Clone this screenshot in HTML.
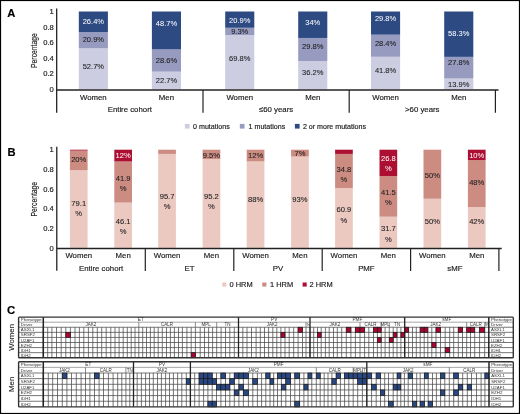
<!DOCTYPE html>
<html><head><meta charset="utf-8"><style>
html,body{margin:0;padding:0;background:#fff;}
body{width:520px;height:414px;overflow:hidden;}
svg{display:block;font-family:"Liberation Sans", sans-serif;will-change:transform;}
</style></head><body>
<svg width="520" height="414" viewBox="0 0 520 414">
<rect x="0" y="0" width="520" height="414" fill="#fff"/>
<text x="11.20" y="16.50" font-size="11.2" text-anchor="middle" fill="#000" stroke="#000" stroke-width="0.16" font-weight="bold">A</text>
<rect x="78.80" y="48.30" width="29.10" height="41.00" fill="#CDCDE2"/>
<rect x="78.80" y="32.04" width="29.10" height="16.26" fill="#989BC0"/>
<rect x="78.80" y="11.50" width="29.10" height="20.54" fill="#2D4A83"/>
<text x="93.35" y="68.50" font-size="7.5" text-anchor="middle" fill="#1e1e1e" stroke="#1e1e1e" stroke-width="0.08">52.7%</text>
<text x="93.35" y="42.10" font-size="7.5" text-anchor="middle" fill="#1e1e1e" stroke="#1e1e1e" stroke-width="0.08">20.9%</text>
<text x="93.35" y="23.90" font-size="7.5" text-anchor="middle" fill="#fff" stroke="#fff" stroke-width="0.03">26.4%</text>
<rect x="151.90" y="71.64" width="29.10" height="17.66" fill="#CDCDE2"/>
<rect x="151.90" y="49.39" width="29.10" height="22.25" fill="#989BC0"/>
<rect x="151.90" y="11.50" width="29.10" height="37.89" fill="#2D4A83"/>
<text x="166.45" y="83.10" font-size="7.5" text-anchor="middle" fill="#1e1e1e" stroke="#1e1e1e" stroke-width="0.08">22.7%</text>
<text x="166.45" y="63.00" font-size="7.5" text-anchor="middle" fill="#1e1e1e" stroke="#1e1e1e" stroke-width="0.08">28.6%</text>
<text x="166.45" y="26.30" font-size="7.5" text-anchor="middle" fill="#fff" stroke="#fff" stroke-width="0.03">48.7%</text>
<rect x="225.20" y="35.00" width="29.10" height="54.30" fill="#CDCDE2"/>
<rect x="225.20" y="27.76" width="29.10" height="7.24" fill="#989BC0"/>
<rect x="225.20" y="11.50" width="29.10" height="16.26" fill="#2D4A83"/>
<text x="239.75" y="61.00" font-size="7.5" text-anchor="middle" fill="#1e1e1e" stroke="#1e1e1e" stroke-width="0.08">69.8%</text>
<text x="239.75" y="34.00" font-size="7.5" text-anchor="middle" fill="#1e1e1e" stroke="#1e1e1e" stroke-width="0.08">9.3%</text>
<text x="239.75" y="22.50" font-size="7.5" text-anchor="middle" fill="#fff" stroke="#fff" stroke-width="0.03">20.9%</text>
<rect x="298.20" y="61.14" width="29.10" height="28.16" fill="#CDCDE2"/>
<rect x="298.20" y="37.95" width="29.10" height="23.18" fill="#989BC0"/>
<rect x="298.20" y="11.50" width="29.10" height="26.45" fill="#2D4A83"/>
<text x="312.75" y="75.20" font-size="7.5" text-anchor="middle" fill="#1e1e1e" stroke="#1e1e1e" stroke-width="0.08">36.2%</text>
<text x="312.75" y="49.20" font-size="7.5" text-anchor="middle" fill="#1e1e1e" stroke="#1e1e1e" stroke-width="0.08">29.8%</text>
<text x="312.75" y="25.30" font-size="7.5" text-anchor="middle" fill="#fff" stroke="#fff" stroke-width="0.03">34%</text>
<rect x="371.00" y="56.78" width="29.10" height="32.52" fill="#CDCDE2"/>
<rect x="371.00" y="34.68" width="29.10" height="22.10" fill="#989BC0"/>
<rect x="371.00" y="11.50" width="29.10" height="23.18" fill="#2D4A83"/>
<text x="385.55" y="73.20" font-size="7.5" text-anchor="middle" fill="#1e1e1e" stroke="#1e1e1e" stroke-width="0.08">41.8%</text>
<text x="385.55" y="45.60" font-size="7.5" text-anchor="middle" fill="#1e1e1e" stroke="#1e1e1e" stroke-width="0.08">28.4%</text>
<text x="385.55" y="21.20" font-size="7.5" text-anchor="middle" fill="#fff" stroke="#fff" stroke-width="0.03">29.8%</text>
<rect x="444.20" y="78.49" width="29.10" height="10.81" fill="#CDCDE2"/>
<rect x="444.20" y="56.86" width="29.10" height="21.63" fill="#989BC0"/>
<rect x="444.20" y="11.50" width="29.10" height="45.36" fill="#2D4A83"/>
<text x="458.75" y="87.20" font-size="7.5" text-anchor="middle" fill="#1e1e1e" stroke="#1e1e1e" stroke-width="0.08">13.9%</text>
<text x="458.75" y="65.10" font-size="7.5" text-anchor="middle" fill="#1e1e1e" stroke="#1e1e1e" stroke-width="0.08">27.8%</text>
<text x="458.75" y="35.70" font-size="7.5" text-anchor="middle" fill="#fff" stroke="#fff" stroke-width="0.03">58.3%</text>
<line x1="56.70" y1="8.50" x2="56.70" y2="112.70" stroke="#111" stroke-width="1.2"/>
<line x1="56.70" y1="89.90" x2="498.50" y2="89.90" stroke="#222" stroke-width="1.5"/>
<line x1="203.00" y1="89.90" x2="203.00" y2="112.70" stroke="#222" stroke-width="1.2"/>
<line x1="349.20" y1="89.90" x2="349.20" y2="112.70" stroke="#222" stroke-width="1.2"/>
<line x1="495.40" y1="89.90" x2="495.40" y2="112.70" stroke="#222" stroke-width="1.2"/>
<text x="53.80" y="14.20" font-size="7.6" text-anchor="end" fill="#1a1a1a" stroke="#1a1a1a" stroke-width="0.16">1</text>
<text x="53.80" y="29.76" font-size="7.6" text-anchor="end" fill="#1a1a1a" stroke="#1a1a1a" stroke-width="0.16">0.8</text>
<text x="53.80" y="45.32" font-size="7.6" text-anchor="end" fill="#1a1a1a" stroke="#1a1a1a" stroke-width="0.16">0.6</text>
<text x="53.80" y="60.88" font-size="7.6" text-anchor="end" fill="#1a1a1a" stroke="#1a1a1a" stroke-width="0.16">0.4</text>
<text x="53.80" y="76.44" font-size="7.6" text-anchor="end" fill="#1a1a1a" stroke="#1a1a1a" stroke-width="0.16">0.2</text>
<text x="53.80" y="92.00" font-size="7.6" text-anchor="end" fill="#1a1a1a" stroke="#1a1a1a" stroke-width="0.16">0</text>
<text x="0" y="0" font-size="9.4" text-anchor="middle" fill="#1a1a1a" stroke="#1a1a1a" stroke-width="0.15" transform="translate(36.70 50.60) rotate(-90) scale(0.72 1)">Percentage</text>
<text x="93.35" y="99.90" font-size="7.8" text-anchor="middle" fill="#1a1a1a" stroke="#1a1a1a" stroke-width="0.16">Women</text>
<text x="166.45" y="99.90" font-size="7.8" text-anchor="middle" fill="#1a1a1a" stroke="#1a1a1a" stroke-width="0.16">Men</text>
<text x="239.75" y="99.90" font-size="7.8" text-anchor="middle" fill="#1a1a1a" stroke="#1a1a1a" stroke-width="0.16">Women</text>
<text x="312.75" y="99.90" font-size="7.8" text-anchor="middle" fill="#1a1a1a" stroke="#1a1a1a" stroke-width="0.16">Men</text>
<text x="385.55" y="99.90" font-size="7.8" text-anchor="middle" fill="#1a1a1a" stroke="#1a1a1a" stroke-width="0.16">Women</text>
<text x="458.75" y="99.90" font-size="7.8" text-anchor="middle" fill="#1a1a1a" stroke="#1a1a1a" stroke-width="0.16">Men</text>
<text x="129.80" y="111.80" font-size="7.8" text-anchor="middle" fill="#1a1a1a" stroke="#1a1a1a" stroke-width="0.16">Entire cohort</text>
<text x="276.10" y="111.80" font-size="7.8" text-anchor="middle" fill="#1a1a1a" stroke="#1a1a1a" stroke-width="0.16">≤60 years</text>
<text x="422.30" y="111.80" font-size="7.8" text-anchor="middle" fill="#1a1a1a" stroke="#1a1a1a" stroke-width="0.16">&gt;60 years</text>
<rect x="184.90" y="123.90" width="4.70" height="4.70" fill="#CDCDE2"/>
<text x="193.10" y="128.70" font-size="7.1" text-anchor="start" fill="#1a1a1a" stroke="#1a1a1a" stroke-width="0.16">0 mutations</text>
<rect x="239.80" y="123.90" width="4.70" height="4.70" fill="#989BC0"/>
<text x="248.60" y="128.70" font-size="7.1" text-anchor="start" fill="#1a1a1a" stroke="#1a1a1a" stroke-width="0.16">1 mutations</text>
<rect x="294.90" y="123.90" width="4.70" height="4.70" fill="#2D4A83"/>
<text x="302.90" y="128.70" font-size="7.1" text-anchor="start" fill="#1a1a1a" stroke="#1a1a1a" stroke-width="0.16">2 or more mutations</text>
<text x="11.50" y="155.70" font-size="11.2" text-anchor="middle" fill="#000" stroke="#000" stroke-width="0.16" font-weight="bold">B</text>
<rect x="69.90" y="170.20" width="17.70" height="77.60" fill="#EBC8C0"/>
<rect x="69.90" y="150.58" width="17.70" height="19.62" fill="#CD8C82"/>
<rect x="69.90" y="149.70" width="17.70" height="0.88" fill="#AC0F32"/>
<text x="78.75" y="205.65" font-size="7.6" text-anchor="middle" fill="#222" stroke="#222" stroke-width="0.08">79.1</text>
<text x="78.75" y="215.75" font-size="7.6" text-anchor="middle" fill="#222" stroke="#222" stroke-width="0.08">%</text>
<text x="78.75" y="162.20" font-size="7.6" text-anchor="middle" fill="#222" stroke="#222" stroke-width="0.08">20%</text>
<rect x="114.30" y="202.58" width="17.70" height="45.22" fill="#EBC8C0"/>
<rect x="114.30" y="161.47" width="17.70" height="41.10" fill="#CD8C82"/>
<rect x="114.30" y="149.70" width="17.70" height="11.77" fill="#AC0F32"/>
<text x="123.15" y="224.15" font-size="7.6" text-anchor="middle" fill="#222" stroke="#222" stroke-width="0.08">46.1</text>
<text x="123.15" y="234.25" font-size="7.6" text-anchor="middle" fill="#222" stroke="#222" stroke-width="0.08">%</text>
<text x="123.15" y="180.65" font-size="7.6" text-anchor="middle" fill="#222" stroke="#222" stroke-width="0.08">41.9</text>
<text x="123.15" y="190.75" font-size="7.6" text-anchor="middle" fill="#222" stroke="#222" stroke-width="0.08">%</text>
<text x="123.15" y="157.90" font-size="7.6" text-anchor="middle" fill="#fff" stroke="#fff" stroke-width="0.03">12%</text>
<rect x="158.20" y="153.92" width="17.70" height="93.88" fill="#EBC8C0"/>
<rect x="158.20" y="149.70" width="17.70" height="4.22" fill="#CD8C82"/>
<text x="167.05" y="198.55" font-size="7.6" text-anchor="middle" fill="#222" stroke="#222" stroke-width="0.08">95.7</text>
<text x="167.05" y="208.65" font-size="7.6" text-anchor="middle" fill="#222" stroke="#222" stroke-width="0.08">%</text>
<rect x="202.60" y="159.02" width="17.70" height="88.78" fill="#EBC8C0"/>
<rect x="202.60" y="149.70" width="17.70" height="9.32" fill="#CD8C82"/>
<text x="211.45" y="199.15" font-size="7.6" text-anchor="middle" fill="#222" stroke="#222" stroke-width="0.08">95.2</text>
<text x="211.45" y="209.25" font-size="7.6" text-anchor="middle" fill="#222" stroke="#222" stroke-width="0.08">%</text>
<text x="211.45" y="157.90" font-size="7.6" text-anchor="middle" fill="#222" stroke="#222" stroke-width="0.08">9.5%</text>
<rect x="246.70" y="161.47" width="17.70" height="86.33" fill="#EBC8C0"/>
<rect x="246.70" y="149.70" width="17.70" height="11.77" fill="#CD8C82"/>
<text x="255.55" y="202.30" font-size="7.6" text-anchor="middle" fill="#222" stroke="#222" stroke-width="0.08">88%</text>
<text x="255.55" y="158.40" font-size="7.6" text-anchor="middle" fill="#222" stroke="#222" stroke-width="0.08">12%</text>
<rect x="291.10" y="156.57" width="17.70" height="91.23" fill="#EBC8C0"/>
<rect x="291.10" y="149.70" width="17.70" height="6.87" fill="#CD8C82"/>
<text x="299.95" y="202.30" font-size="7.6" text-anchor="middle" fill="#222" stroke="#222" stroke-width="0.08">93%</text>
<text x="299.95" y="156.10" font-size="7.6" text-anchor="middle" fill="#222" stroke="#222" stroke-width="0.08">7%</text>
<rect x="335.10" y="188.06" width="17.70" height="59.74" fill="#EBC8C0"/>
<rect x="335.10" y="153.92" width="17.70" height="34.14" fill="#CD8C82"/>
<rect x="335.10" y="149.70" width="17.70" height="4.22" fill="#AC0F32"/>
<text x="343.95" y="212.45" font-size="7.6" text-anchor="middle" fill="#222" stroke="#222" stroke-width="0.08">60.9</text>
<text x="343.95" y="222.55" font-size="7.6" text-anchor="middle" fill="#222" stroke="#222" stroke-width="0.08">%</text>
<text x="343.95" y="171.65" font-size="7.6" text-anchor="middle" fill="#222" stroke="#222" stroke-width="0.08">34.8</text>
<text x="343.95" y="181.75" font-size="7.6" text-anchor="middle" fill="#222" stroke="#222" stroke-width="0.08">%</text>
<rect x="379.50" y="216.70" width="17.70" height="31.10" fill="#EBC8C0"/>
<rect x="379.50" y="175.99" width="17.70" height="40.71" fill="#CD8C82"/>
<rect x="379.50" y="149.70" width="17.70" height="26.29" fill="#AC0F32"/>
<text x="388.35" y="231.45" font-size="7.6" text-anchor="middle" fill="#222" stroke="#222" stroke-width="0.08">31.7</text>
<text x="388.35" y="241.55" font-size="7.6" text-anchor="middle" fill="#222" stroke="#222" stroke-width="0.08">%</text>
<text x="388.35" y="194.65" font-size="7.6" text-anchor="middle" fill="#222" stroke="#222" stroke-width="0.08">41.5</text>
<text x="388.35" y="204.75" font-size="7.6" text-anchor="middle" fill="#222" stroke="#222" stroke-width="0.08">%</text>
<text x="388.35" y="160.95" font-size="7.6" text-anchor="middle" fill="#fff" stroke="#fff" stroke-width="0.03">26.8</text>
<text x="388.35" y="171.05" font-size="7.6" text-anchor="middle" fill="#fff" stroke="#fff" stroke-width="0.03">%</text>
<rect x="423.50" y="198.75" width="17.70" height="49.05" fill="#EBC8C0"/>
<rect x="423.50" y="149.70" width="17.70" height="49.05" fill="#CD8C82"/>
<text x="432.35" y="224.30" font-size="7.6" text-anchor="middle" fill="#222" stroke="#222" stroke-width="0.08">50%</text>
<text x="432.35" y="177.70" font-size="7.6" text-anchor="middle" fill="#222" stroke="#222" stroke-width="0.08">50%</text>
<rect x="467.90" y="206.99" width="17.70" height="40.81" fill="#EBC8C0"/>
<rect x="467.90" y="160.10" width="17.70" height="46.89" fill="#CD8C82"/>
<rect x="467.90" y="149.70" width="17.70" height="10.40" fill="#AC0F32"/>
<text x="476.75" y="224.30" font-size="7.6" text-anchor="middle" fill="#222" stroke="#222" stroke-width="0.08">42%</text>
<text x="476.75" y="184.50" font-size="7.6" text-anchor="middle" fill="#222" stroke="#222" stroke-width="0.08">48%</text>
<text x="476.75" y="157.90" font-size="7.6" text-anchor="middle" fill="#fff" stroke="#fff" stroke-width="0.03">10%</text>
<line x1="56.80" y1="146.80" x2="56.80" y2="270.80" stroke="#111" stroke-width="1.2"/>
<line x1="56.80" y1="248.60" x2="501.70" y2="248.60" stroke="#222" stroke-width="1.5"/>
<line x1="145.30" y1="248.60" x2="145.30" y2="270.90" stroke="#222" stroke-width="1.2"/>
<line x1="233.80" y1="248.60" x2="233.80" y2="270.90" stroke="#222" stroke-width="1.2"/>
<line x1="322.20" y1="248.60" x2="322.20" y2="270.90" stroke="#222" stroke-width="1.2"/>
<line x1="410.60" y1="248.60" x2="410.60" y2="270.90" stroke="#222" stroke-width="1.2"/>
<line x1="498.90" y1="248.60" x2="498.90" y2="270.90" stroke="#222" stroke-width="1.2"/>
<text x="53.80" y="152.40" font-size="7.6" text-anchor="end" fill="#1a1a1a" stroke="#1a1a1a" stroke-width="0.16">1</text>
<text x="53.80" y="172.02" font-size="7.6" text-anchor="end" fill="#1a1a1a" stroke="#1a1a1a" stroke-width="0.16">0.8</text>
<text x="53.80" y="191.64" font-size="7.6" text-anchor="end" fill="#1a1a1a" stroke="#1a1a1a" stroke-width="0.16">0.6</text>
<text x="53.80" y="211.26" font-size="7.6" text-anchor="end" fill="#1a1a1a" stroke="#1a1a1a" stroke-width="0.16">0.4</text>
<text x="53.80" y="230.88" font-size="7.6" text-anchor="end" fill="#1a1a1a" stroke="#1a1a1a" stroke-width="0.16">0.2</text>
<text x="53.80" y="250.50" font-size="7.6" text-anchor="end" fill="#1a1a1a" stroke="#1a1a1a" stroke-width="0.16">0</text>
<text x="0" y="0" font-size="9.4" text-anchor="middle" fill="#1a1a1a" stroke="#1a1a1a" stroke-width="0.15" transform="translate(36.90 199.20) rotate(-90) scale(0.72 1)">Percentage</text>
<text x="78.75" y="258.20" font-size="7.8" text-anchor="middle" fill="#1a1a1a" stroke="#1a1a1a" stroke-width="0.16">Women</text>
<text x="123.15" y="258.20" font-size="7.8" text-anchor="middle" fill="#1a1a1a" stroke="#1a1a1a" stroke-width="0.16">Men</text>
<text x="167.05" y="258.20" font-size="7.8" text-anchor="middle" fill="#1a1a1a" stroke="#1a1a1a" stroke-width="0.16">Women</text>
<text x="211.45" y="258.20" font-size="7.8" text-anchor="middle" fill="#1a1a1a" stroke="#1a1a1a" stroke-width="0.16">Men</text>
<text x="255.55" y="258.20" font-size="7.8" text-anchor="middle" fill="#1a1a1a" stroke="#1a1a1a" stroke-width="0.16">Women</text>
<text x="299.95" y="258.20" font-size="7.8" text-anchor="middle" fill="#1a1a1a" stroke="#1a1a1a" stroke-width="0.16">Men</text>
<text x="343.95" y="258.20" font-size="7.8" text-anchor="middle" fill="#1a1a1a" stroke="#1a1a1a" stroke-width="0.16">Women</text>
<text x="388.35" y="258.20" font-size="7.8" text-anchor="middle" fill="#1a1a1a" stroke="#1a1a1a" stroke-width="0.16">Men</text>
<text x="432.35" y="258.20" font-size="7.8" text-anchor="middle" fill="#1a1a1a" stroke="#1a1a1a" stroke-width="0.16">Women</text>
<text x="476.75" y="258.20" font-size="7.8" text-anchor="middle" fill="#1a1a1a" stroke="#1a1a1a" stroke-width="0.16">Men</text>
<text x="101.15" y="270.70" font-size="7.8" text-anchor="middle" fill="#1a1a1a" stroke="#1a1a1a" stroke-width="0.16">Entire cohort</text>
<text x="189.55" y="270.70" font-size="7.8" text-anchor="middle" fill="#1a1a1a" stroke="#1a1a1a" stroke-width="0.16">ET</text>
<text x="278.00" y="270.70" font-size="7.8" text-anchor="middle" fill="#1a1a1a" stroke="#1a1a1a" stroke-width="0.16">PV</text>
<text x="366.40" y="270.70" font-size="7.8" text-anchor="middle" fill="#1a1a1a" stroke="#1a1a1a" stroke-width="0.16">PMF</text>
<text x="454.90" y="270.70" font-size="7.8" text-anchor="middle" fill="#1a1a1a" stroke="#1a1a1a" stroke-width="0.16">sMF</text>
<rect x="222.30" y="282.50" width="4.10" height="4.10" fill="#EBC8C0"/>
<text x="229.50" y="286.80" font-size="7.45" text-anchor="start" fill="#1a1a1a" stroke="#1a1a1a" stroke-width="0.16">0 HRM</text>
<rect x="262.30" y="282.50" width="4.10" height="4.10" fill="#CD8C82"/>
<text x="270.00" y="286.80" font-size="7.45" text-anchor="start" fill="#1a1a1a" stroke="#1a1a1a" stroke-width="0.16">1 HRM</text>
<rect x="302.60" y="282.50" width="4.10" height="4.10" fill="#AC0F32"/>
<text x="309.50" y="286.80" font-size="7.45" text-anchor="start" fill="#1a1a1a" stroke="#1a1a1a" stroke-width="0.16">2 HRM</text>
<text x="11.10" y="314.10" font-size="11.4" text-anchor="middle" fill="#000" stroke="#000" stroke-width="0.16" font-weight="bold">C</text>
<text x="0" y="0" font-size="7.8" text-anchor="middle" fill="#1a1a1a" stroke="#1a1a1a" stroke-width="0.1" transform="translate(13.60 337.40) rotate(-90)">Women</text>
<text x="0" y="0" font-size="7.8" text-anchor="middle" fill="#1a1a1a" stroke="#1a1a1a" stroke-width="0.1" transform="translate(13.60 384.30) rotate(-90)">Men</text>
<line x1="43.20" y1="327.26" x2="43.20" y2="357.74" stroke="#484848" stroke-width="0.75"/>
<line x1="47.70" y1="327.26" x2="47.70" y2="357.74" stroke="#484848" stroke-width="0.75"/>
<line x1="51.90" y1="327.26" x2="51.90" y2="357.74" stroke="#484848" stroke-width="0.75"/>
<line x1="56.50" y1="327.26" x2="56.50" y2="357.74" stroke="#484848" stroke-width="0.75"/>
<line x1="61.20" y1="327.26" x2="61.20" y2="357.74" stroke="#484848" stroke-width="0.75"/>
<line x1="65.80" y1="327.26" x2="65.80" y2="357.74" stroke="#484848" stroke-width="0.75"/>
<line x1="70.40" y1="327.26" x2="70.40" y2="357.74" stroke="#484848" stroke-width="0.75"/>
<line x1="75.00" y1="327.26" x2="75.00" y2="357.74" stroke="#484848" stroke-width="0.75"/>
<line x1="79.40" y1="327.26" x2="79.40" y2="357.74" stroke="#484848" stroke-width="0.75"/>
<line x1="83.80" y1="327.26" x2="83.80" y2="357.74" stroke="#484848" stroke-width="0.75"/>
<line x1="88.40" y1="327.26" x2="88.40" y2="357.74" stroke="#484848" stroke-width="0.75"/>
<line x1="92.80" y1="327.26" x2="92.80" y2="357.74" stroke="#484848" stroke-width="0.75"/>
<line x1="97.30" y1="327.26" x2="97.30" y2="357.74" stroke="#484848" stroke-width="0.75"/>
<line x1="101.70" y1="327.26" x2="101.70" y2="357.74" stroke="#484848" stroke-width="0.75"/>
<line x1="106.20" y1="327.26" x2="106.20" y2="357.74" stroke="#484848" stroke-width="0.75"/>
<line x1="110.80" y1="327.26" x2="110.80" y2="357.74" stroke="#484848" stroke-width="0.75"/>
<line x1="115.00" y1="327.26" x2="115.00" y2="357.74" stroke="#484848" stroke-width="0.75"/>
<line x1="119.10" y1="327.26" x2="119.10" y2="357.74" stroke="#484848" stroke-width="0.75"/>
<line x1="123.20" y1="327.26" x2="123.20" y2="357.74" stroke="#484848" stroke-width="0.75"/>
<line x1="127.30" y1="327.26" x2="127.30" y2="357.74" stroke="#484848" stroke-width="0.75"/>
<line x1="131.20" y1="327.26" x2="131.20" y2="357.74" stroke="#484848" stroke-width="0.75"/>
<line x1="135.00" y1="327.26" x2="135.00" y2="357.74" stroke="#484848" stroke-width="0.75"/>
<line x1="138.80" y1="327.26" x2="138.80" y2="357.74" stroke="#484848" stroke-width="0.75"/>
<line x1="142.70" y1="327.26" x2="142.70" y2="357.74" stroke="#484848" stroke-width="0.75"/>
<line x1="146.50" y1="327.26" x2="146.50" y2="357.74" stroke="#484848" stroke-width="0.75"/>
<line x1="150.40" y1="327.26" x2="150.40" y2="357.74" stroke="#484848" stroke-width="0.75"/>
<line x1="154.20" y1="327.26" x2="154.20" y2="357.74" stroke="#484848" stroke-width="0.75"/>
<line x1="158.20" y1="327.26" x2="158.20" y2="357.74" stroke="#484848" stroke-width="0.75"/>
<line x1="162.30" y1="327.26" x2="162.30" y2="357.74" stroke="#484848" stroke-width="0.75"/>
<line x1="166.50" y1="327.26" x2="166.50" y2="357.74" stroke="#484848" stroke-width="0.75"/>
<line x1="170.40" y1="327.26" x2="170.40" y2="357.74" stroke="#484848" stroke-width="0.75"/>
<line x1="174.40" y1="327.26" x2="174.40" y2="357.74" stroke="#484848" stroke-width="0.75"/>
<line x1="178.50" y1="327.26" x2="178.50" y2="357.74" stroke="#484848" stroke-width="0.75"/>
<line x1="182.40" y1="327.26" x2="182.40" y2="357.74" stroke="#484848" stroke-width="0.75"/>
<line x1="186.90" y1="327.26" x2="186.90" y2="357.74" stroke="#484848" stroke-width="0.75"/>
<line x1="191.20" y1="327.26" x2="191.20" y2="357.74" stroke="#484848" stroke-width="0.75"/>
<line x1="195.40" y1="327.26" x2="195.40" y2="357.74" stroke="#484848" stroke-width="0.75"/>
<line x1="200.20" y1="327.26" x2="200.20" y2="357.74" stroke="#484848" stroke-width="0.75"/>
<line x1="204.50" y1="327.26" x2="204.50" y2="357.74" stroke="#484848" stroke-width="0.75"/>
<line x1="208.60" y1="327.26" x2="208.60" y2="357.74" stroke="#484848" stroke-width="0.75"/>
<line x1="212.60" y1="327.26" x2="212.60" y2="357.74" stroke="#484848" stroke-width="0.75"/>
<line x1="216.70" y1="327.26" x2="216.70" y2="357.74" stroke="#484848" stroke-width="0.75"/>
<line x1="221.10" y1="327.26" x2="221.10" y2="357.74" stroke="#484848" stroke-width="0.75"/>
<line x1="225.50" y1="327.26" x2="225.50" y2="357.74" stroke="#484848" stroke-width="0.75"/>
<line x1="229.80" y1="327.26" x2="229.80" y2="357.74" stroke="#484848" stroke-width="0.75"/>
<line x1="234.30" y1="327.26" x2="234.30" y2="357.74" stroke="#484848" stroke-width="0.75"/>
<line x1="238.50" y1="327.26" x2="238.50" y2="357.74" stroke="#484848" stroke-width="0.75"/>
<line x1="242.80" y1="327.26" x2="242.80" y2="357.74" stroke="#484848" stroke-width="0.75"/>
<line x1="247.00" y1="327.26" x2="247.00" y2="357.74" stroke="#484848" stroke-width="0.75"/>
<line x1="251.50" y1="327.26" x2="251.50" y2="357.74" stroke="#484848" stroke-width="0.75"/>
<line x1="256.10" y1="327.26" x2="256.10" y2="357.74" stroke="#484848" stroke-width="0.75"/>
<line x1="260.30" y1="327.26" x2="260.30" y2="357.74" stroke="#484848" stroke-width="0.75"/>
<line x1="264.50" y1="327.26" x2="264.50" y2="357.74" stroke="#484848" stroke-width="0.75"/>
<line x1="268.60" y1="327.26" x2="268.60" y2="357.74" stroke="#484848" stroke-width="0.75"/>
<line x1="272.80" y1="327.26" x2="272.80" y2="357.74" stroke="#484848" stroke-width="0.75"/>
<line x1="276.80" y1="327.26" x2="276.80" y2="357.74" stroke="#484848" stroke-width="0.75"/>
<line x1="280.90" y1="327.26" x2="280.90" y2="357.74" stroke="#484848" stroke-width="0.75"/>
<line x1="285.00" y1="327.26" x2="285.00" y2="357.74" stroke="#484848" stroke-width="0.75"/>
<line x1="289.20" y1="327.26" x2="289.20" y2="357.74" stroke="#484848" stroke-width="0.75"/>
<line x1="293.70" y1="327.26" x2="293.70" y2="357.74" stroke="#484848" stroke-width="0.75"/>
<line x1="298.10" y1="327.26" x2="298.10" y2="357.74" stroke="#484848" stroke-width="0.75"/>
<line x1="302.50" y1="327.26" x2="302.50" y2="357.74" stroke="#484848" stroke-width="0.75"/>
<line x1="306.00" y1="327.26" x2="306.00" y2="357.74" stroke="#484848" stroke-width="0.75"/>
<line x1="310.00" y1="327.26" x2="310.00" y2="357.74" stroke="#484848" stroke-width="0.75"/>
<line x1="313.70" y1="327.26" x2="313.70" y2="357.74" stroke="#484848" stroke-width="0.75"/>
<line x1="317.50" y1="327.26" x2="317.50" y2="357.74" stroke="#484848" stroke-width="0.75"/>
<line x1="321.20" y1="327.26" x2="321.20" y2="357.74" stroke="#484848" stroke-width="0.75"/>
<line x1="325.40" y1="327.26" x2="325.40" y2="357.74" stroke="#484848" stroke-width="0.75"/>
<line x1="329.20" y1="327.26" x2="329.20" y2="357.74" stroke="#484848" stroke-width="0.75"/>
<line x1="333.50" y1="327.26" x2="333.50" y2="357.74" stroke="#484848" stroke-width="0.75"/>
<line x1="337.30" y1="327.26" x2="337.30" y2="357.74" stroke="#484848" stroke-width="0.75"/>
<line x1="341.70" y1="327.26" x2="341.70" y2="357.74" stroke="#484848" stroke-width="0.75"/>
<line x1="346.30" y1="327.26" x2="346.30" y2="357.74" stroke="#484848" stroke-width="0.75"/>
<line x1="350.90" y1="327.26" x2="350.90" y2="357.74" stroke="#484848" stroke-width="0.75"/>
<line x1="355.40" y1="327.26" x2="355.40" y2="357.74" stroke="#484848" stroke-width="0.75"/>
<line x1="360.00" y1="327.26" x2="360.00" y2="357.74" stroke="#484848" stroke-width="0.75"/>
<line x1="364.60" y1="327.26" x2="364.60" y2="357.74" stroke="#484848" stroke-width="0.75"/>
<line x1="368.80" y1="327.26" x2="368.80" y2="357.74" stroke="#484848" stroke-width="0.75"/>
<line x1="373.50" y1="327.26" x2="373.50" y2="357.74" stroke="#484848" stroke-width="0.75"/>
<line x1="377.40" y1="327.26" x2="377.40" y2="357.74" stroke="#484848" stroke-width="0.75"/>
<line x1="381.20" y1="327.26" x2="381.20" y2="357.74" stroke="#484848" stroke-width="0.75"/>
<line x1="385.10" y1="327.26" x2="385.10" y2="357.74" stroke="#484848" stroke-width="0.75"/>
<line x1="389.30" y1="327.26" x2="389.30" y2="357.74" stroke="#484848" stroke-width="0.75"/>
<line x1="393.20" y1="327.26" x2="393.20" y2="357.74" stroke="#484848" stroke-width="0.75"/>
<line x1="397.00" y1="327.26" x2="397.00" y2="357.74" stroke="#484848" stroke-width="0.75"/>
<line x1="400.90" y1="327.26" x2="400.90" y2="357.74" stroke="#484848" stroke-width="0.75"/>
<line x1="404.70" y1="327.26" x2="404.70" y2="357.74" stroke="#484848" stroke-width="0.75"/>
<line x1="408.60" y1="327.26" x2="408.60" y2="357.74" stroke="#484848" stroke-width="0.75"/>
<line x1="412.50" y1="327.26" x2="412.50" y2="357.74" stroke="#484848" stroke-width="0.75"/>
<line x1="416.30" y1="327.26" x2="416.30" y2="357.74" stroke="#484848" stroke-width="0.75"/>
<line x1="420.20" y1="327.26" x2="420.20" y2="357.74" stroke="#484848" stroke-width="0.75"/>
<line x1="424.20" y1="327.26" x2="424.20" y2="357.74" stroke="#484848" stroke-width="0.75"/>
<line x1="427.80" y1="327.26" x2="427.80" y2="357.74" stroke="#484848" stroke-width="0.75"/>
<line x1="431.80" y1="327.26" x2="431.80" y2="357.74" stroke="#484848" stroke-width="0.75"/>
<line x1="436.00" y1="327.26" x2="436.00" y2="357.74" stroke="#484848" stroke-width="0.75"/>
<line x1="440.50" y1="327.26" x2="440.50" y2="357.74" stroke="#484848" stroke-width="0.75"/>
<line x1="445.20" y1="327.26" x2="445.20" y2="357.74" stroke="#484848" stroke-width="0.75"/>
<line x1="449.70" y1="327.26" x2="449.70" y2="357.74" stroke="#484848" stroke-width="0.75"/>
<line x1="453.70" y1="327.26" x2="453.70" y2="357.74" stroke="#484848" stroke-width="0.75"/>
<line x1="458.30" y1="327.26" x2="458.30" y2="357.74" stroke="#484848" stroke-width="0.75"/>
<line x1="462.50" y1="327.26" x2="462.50" y2="357.74" stroke="#484848" stroke-width="0.75"/>
<line x1="466.70" y1="327.26" x2="466.70" y2="357.74" stroke="#484848" stroke-width="0.75"/>
<line x1="470.50" y1="327.26" x2="470.50" y2="357.74" stroke="#484848" stroke-width="0.75"/>
<line x1="474.70" y1="327.26" x2="474.70" y2="357.74" stroke="#484848" stroke-width="0.75"/>
<line x1="479.60" y1="327.26" x2="479.60" y2="357.74" stroke="#484848" stroke-width="0.75"/>
<line x1="484.70" y1="327.26" x2="484.70" y2="357.74" stroke="#484848" stroke-width="0.75"/>
<line x1="18.60" y1="322.18" x2="513.30" y2="322.18" stroke="#888" stroke-width="0.75"/>
<line x1="18.60" y1="327.26" x2="513.30" y2="327.26" stroke="#484848" stroke-width="0.75"/>
<line x1="18.60" y1="332.34" x2="513.30" y2="332.34" stroke="#484848" stroke-width="0.75"/>
<line x1="18.60" y1="337.42" x2="513.30" y2="337.42" stroke="#484848" stroke-width="0.75"/>
<line x1="18.60" y1="342.50" x2="513.30" y2="342.50" stroke="#484848" stroke-width="0.75"/>
<line x1="18.60" y1="347.58" x2="513.30" y2="347.58" stroke="#484848" stroke-width="0.75"/>
<line x1="18.60" y1="352.66" x2="513.30" y2="352.66" stroke="#484848" stroke-width="0.75"/>
<rect x="298.10" y="327.26" width="4.40" height="5.08" fill="#AA0530" stroke="#1a1a1a" stroke-width="0.7"/>
<rect x="346.30" y="327.26" width="4.60" height="5.08" fill="#AA0530" stroke="#1a1a1a" stroke-width="0.7"/>
<rect x="355.40" y="327.26" width="4.60" height="5.08" fill="#AA0530" stroke="#1a1a1a" stroke-width="0.7"/>
<rect x="360.00" y="327.26" width="4.60" height="5.08" fill="#AA0530" stroke="#1a1a1a" stroke-width="0.7"/>
<rect x="373.50" y="327.26" width="3.90" height="5.08" fill="#AA0530" stroke="#1a1a1a" stroke-width="0.7"/>
<rect x="377.40" y="327.26" width="3.80" height="5.08" fill="#AA0530" stroke="#1a1a1a" stroke-width="0.7"/>
<rect x="404.70" y="327.26" width="3.90" height="5.08" fill="#AA0530" stroke="#1a1a1a" stroke-width="0.7"/>
<rect x="420.20" y="327.26" width="4.00" height="5.08" fill="#AA0530" stroke="#1a1a1a" stroke-width="0.7"/>
<rect x="424.20" y="327.26" width="3.60" height="5.08" fill="#AA0530" stroke="#1a1a1a" stroke-width="0.7"/>
<rect x="436.00" y="327.26" width="4.50" height="5.08" fill="#AA0530" stroke="#1a1a1a" stroke-width="0.7"/>
<rect x="458.30" y="327.26" width="4.20" height="5.08" fill="#AA0530" stroke="#1a1a1a" stroke-width="0.7"/>
<rect x="466.70" y="327.26" width="3.80" height="5.08" fill="#AA0530" stroke="#1a1a1a" stroke-width="0.7"/>
<rect x="470.50" y="327.26" width="4.20" height="5.08" fill="#AA0530" stroke="#1a1a1a" stroke-width="0.7"/>
<rect x="479.60" y="327.26" width="5.10" height="5.08" fill="#AA0530" stroke="#1a1a1a" stroke-width="0.7"/>
<rect x="65.80" y="332.34" width="4.60" height="5.08" fill="#AA0530" stroke="#1a1a1a" stroke-width="0.7"/>
<rect x="280.90" y="332.34" width="4.10" height="5.08" fill="#AA0530" stroke="#1a1a1a" stroke-width="0.7"/>
<rect x="317.50" y="332.34" width="3.70" height="5.08" fill="#AA0530" stroke="#1a1a1a" stroke-width="0.7"/>
<rect x="393.20" y="332.34" width="3.80" height="5.08" fill="#AA0530" stroke="#1a1a1a" stroke-width="0.7"/>
<rect x="400.90" y="332.34" width="3.80" height="5.08" fill="#AA0530" stroke="#1a1a1a" stroke-width="0.7"/>
<rect x="377.40" y="337.42" width="3.80" height="5.08" fill="#AA0530" stroke="#1a1a1a" stroke-width="0.7"/>
<rect x="389.30" y="337.42" width="3.90" height="5.08" fill="#AA0530" stroke="#1a1a1a" stroke-width="0.7"/>
<rect x="431.80" y="342.50" width="4.20" height="5.08" fill="#AA0530" stroke="#1a1a1a" stroke-width="0.7"/>
<rect x="445.20" y="347.58" width="4.50" height="5.08" fill="#AA0530" stroke="#1a1a1a" stroke-width="0.7"/>
<rect x="191.20" y="352.66" width="4.20" height="5.08" fill="#AA0530" stroke="#1a1a1a" stroke-width="0.7"/>
<text x="91.00" y="326.34" font-size="4.5" text-anchor="middle" fill="#333">JAK2</text>
<line x1="138.80" y1="322.18" x2="138.80" y2="327.26" stroke="#666" stroke-width="0.75"/>
<text x="167.10" y="326.34" font-size="4.5" text-anchor="middle" fill="#333">CALR</text>
<line x1="195.40" y1="322.18" x2="195.40" y2="327.26" stroke="#666" stroke-width="0.75"/>
<text x="206.05" y="326.34" font-size="4.5" text-anchor="middle" fill="#333">MPL</text>
<line x1="216.70" y1="322.18" x2="216.70" y2="327.26" stroke="#666" stroke-width="0.75"/>
<text x="227.60" y="326.34" font-size="4.5" text-anchor="middle" fill="#333">TN</text>
<text x="140.85" y="321.29" font-size="4.7" text-anchor="middle" fill="#333">ET</text>
<text x="272.25" y="326.34" font-size="4.5" text-anchor="middle" fill="#333">JAK2</text>
<line x1="306.00" y1="322.18" x2="306.00" y2="327.26" stroke="#666" stroke-width="0.75"/>
<text x="308.00" y="325.87" font-size="3.2" text-anchor="middle" fill="#333">Tn</text>
<text x="274.25" y="321.29" font-size="4.7" text-anchor="middle" fill="#333">PV</text>
<text x="335.00" y="326.34" font-size="4.5" text-anchor="middle" fill="#333">JAK2</text>
<line x1="360.00" y1="322.18" x2="360.00" y2="327.26" stroke="#666" stroke-width="0.75"/>
<text x="370.60" y="326.34" font-size="4.5" text-anchor="middle" fill="#333">CALR</text>
<line x1="381.20" y1="322.18" x2="381.20" y2="327.26" stroke="#666" stroke-width="0.75"/>
<text x="385.25" y="326.34" font-size="4.5" text-anchor="middle" fill="#333">MPL</text>
<line x1="389.30" y1="322.18" x2="389.30" y2="327.26" stroke="#666" stroke-width="0.75"/>
<text x="397.00" y="326.34" font-size="4.5" text-anchor="middle" fill="#333">TN</text>
<text x="357.35" y="321.29" font-size="4.7" text-anchor="middle" fill="#333">PMF</text>
<text x="435.70" y="326.34" font-size="4.5" text-anchor="middle" fill="#333">JAK2</text>
<line x1="466.70" y1="322.18" x2="466.70" y2="327.26" stroke="#666" stroke-width="0.75"/>
<text x="475.70" y="326.34" font-size="4.5" text-anchor="middle" fill="#333">CALR</text>
<line x1="484.70" y1="322.18" x2="484.70" y2="327.26" stroke="#666" stroke-width="0.75"/>
<text x="486.75" y="326.34" font-size="4.5" text-anchor="middle" fill="#333">M</text>
<text x="446.75" y="321.29" font-size="4.7" text-anchor="middle" fill="#333">sMF</text>
<line x1="238.50" y1="317.10" x2="238.50" y2="357.74" stroke="#222" stroke-width="1.3"/>
<line x1="310.00" y1="317.10" x2="310.00" y2="357.74" stroke="#222" stroke-width="1.3"/>
<line x1="404.70" y1="317.10" x2="404.70" y2="357.74" stroke="#222" stroke-width="1.3"/>
<line x1="43.30" y1="317.10" x2="43.30" y2="357.74" stroke="#222" stroke-width="1.5"/>
<line x1="488.80" y1="317.10" x2="488.80" y2="357.74" stroke="#222" stroke-width="1.5"/>
<rect x="18.60" y="317.10" width="494.70" height="40.64" fill="none" stroke="#333" stroke-width="1.4" rx="0.8"/>
<text x="20.80" y="321.24" font-size="4.4" text-anchor="start" fill="#333">Phenotype</text>
<text x="491.00" y="321.24" font-size="4.4" text-anchor="start" fill="#333">Phenotype</text>
<text x="20.80" y="326.32" font-size="4.4" text-anchor="start" fill="#333">Driver</text>
<text x="491.00" y="326.32" font-size="4.4" text-anchor="start" fill="#333">Driver</text>
<text x="20.80" y="331.40" font-size="4.4" text-anchor="start" fill="#333">ASXL1</text>
<text x="491.00" y="331.40" font-size="4.4" text-anchor="start" fill="#333">ASXL1</text>
<text x="20.80" y="336.48" font-size="4.4" text-anchor="start" fill="#333">SRSF2</text>
<text x="491.00" y="336.48" font-size="4.4" text-anchor="start" fill="#333">SRSF2</text>
<text x="20.80" y="341.56" font-size="4.4" text-anchor="start" fill="#333">U2AF1</text>
<text x="491.00" y="341.56" font-size="4.4" text-anchor="start" fill="#333">U2AF1</text>
<text x="20.80" y="346.64" font-size="4.4" text-anchor="start" fill="#333">EZH2</text>
<text x="491.00" y="346.64" font-size="4.4" text-anchor="start" fill="#333">EZH2</text>
<text x="20.80" y="351.72" font-size="4.4" text-anchor="start" fill="#333">IDH1</text>
<text x="491.00" y="351.72" font-size="4.4" text-anchor="start" fill="#333">IDH1</text>
<text x="20.80" y="356.80" font-size="4.4" text-anchor="start" fill="#333">IDH2</text>
<text x="491.00" y="356.80" font-size="4.4" text-anchor="start" fill="#333">IDH2</text>
<line x1="43.20" y1="373.00" x2="43.20" y2="406.90" stroke="#484848" stroke-width="0.75"/>
<line x1="48.30" y1="373.00" x2="48.30" y2="406.90" stroke="#484848" stroke-width="0.75"/>
<line x1="52.70" y1="373.00" x2="52.70" y2="406.90" stroke="#484848" stroke-width="0.75"/>
<line x1="57.50" y1="373.00" x2="57.50" y2="406.90" stroke="#484848" stroke-width="0.75"/>
<line x1="62.30" y1="373.00" x2="62.30" y2="406.90" stroke="#484848" stroke-width="0.75"/>
<line x1="66.90" y1="373.00" x2="66.90" y2="406.90" stroke="#484848" stroke-width="0.75"/>
<line x1="71.50" y1="373.00" x2="71.50" y2="406.90" stroke="#484848" stroke-width="0.75"/>
<line x1="76.30" y1="373.00" x2="76.30" y2="406.90" stroke="#484848" stroke-width="0.75"/>
<line x1="81.10" y1="373.00" x2="81.10" y2="406.90" stroke="#484848" stroke-width="0.75"/>
<line x1="85.50" y1="373.00" x2="85.50" y2="406.90" stroke="#484848" stroke-width="0.75"/>
<line x1="89.90" y1="373.00" x2="89.90" y2="406.90" stroke="#484848" stroke-width="0.75"/>
<line x1="94.50" y1="373.00" x2="94.50" y2="406.90" stroke="#484848" stroke-width="0.75"/>
<line x1="99.10" y1="373.00" x2="99.10" y2="406.90" stroke="#484848" stroke-width="0.75"/>
<line x1="103.50" y1="373.00" x2="103.50" y2="406.90" stroke="#484848" stroke-width="0.75"/>
<line x1="108.40" y1="373.00" x2="108.40" y2="406.90" stroke="#484848" stroke-width="0.75"/>
<line x1="113.10" y1="373.00" x2="113.10" y2="406.90" stroke="#484848" stroke-width="0.75"/>
<line x1="117.70" y1="373.00" x2="117.70" y2="406.90" stroke="#484848" stroke-width="0.75"/>
<line x1="121.80" y1="373.00" x2="121.80" y2="406.90" stroke="#484848" stroke-width="0.75"/>
<line x1="125.90" y1="373.00" x2="125.90" y2="406.90" stroke="#484848" stroke-width="0.75"/>
<line x1="129.80" y1="373.00" x2="129.80" y2="406.90" stroke="#484848" stroke-width="0.75"/>
<line x1="133.50" y1="373.00" x2="133.50" y2="406.90" stroke="#484848" stroke-width="0.75"/>
<line x1="137.20" y1="373.00" x2="137.20" y2="406.90" stroke="#484848" stroke-width="0.75"/>
<line x1="141.40" y1="373.00" x2="141.40" y2="406.90" stroke="#484848" stroke-width="0.75"/>
<line x1="145.60" y1="373.00" x2="145.60" y2="406.90" stroke="#484848" stroke-width="0.75"/>
<line x1="149.50" y1="373.00" x2="149.50" y2="406.90" stroke="#484848" stroke-width="0.75"/>
<line x1="153.30" y1="373.00" x2="153.30" y2="406.90" stroke="#484848" stroke-width="0.75"/>
<line x1="157.50" y1="373.00" x2="157.50" y2="406.90" stroke="#484848" stroke-width="0.75"/>
<line x1="161.40" y1="373.00" x2="161.40" y2="406.90" stroke="#484848" stroke-width="0.75"/>
<line x1="165.60" y1="373.00" x2="165.60" y2="406.90" stroke="#484848" stroke-width="0.75"/>
<line x1="169.50" y1="373.00" x2="169.50" y2="406.90" stroke="#484848" stroke-width="0.75"/>
<line x1="173.40" y1="373.00" x2="173.40" y2="406.90" stroke="#484848" stroke-width="0.75"/>
<line x1="177.60" y1="373.00" x2="177.60" y2="406.90" stroke="#484848" stroke-width="0.75"/>
<line x1="181.80" y1="373.00" x2="181.80" y2="406.90" stroke="#484848" stroke-width="0.75"/>
<line x1="186.30" y1="373.00" x2="186.30" y2="406.90" stroke="#484848" stroke-width="0.75"/>
<line x1="190.40" y1="373.00" x2="190.40" y2="406.90" stroke="#484848" stroke-width="0.75"/>
<line x1="194.70" y1="373.00" x2="194.70" y2="406.90" stroke="#484848" stroke-width="0.75"/>
<line x1="199.10" y1="373.00" x2="199.10" y2="406.90" stroke="#484848" stroke-width="0.75"/>
<line x1="203.60" y1="373.00" x2="203.60" y2="406.90" stroke="#484848" stroke-width="0.75"/>
<line x1="207.90" y1="373.00" x2="207.90" y2="406.90" stroke="#484848" stroke-width="0.75"/>
<line x1="212.20" y1="373.00" x2="212.20" y2="406.90" stroke="#484848" stroke-width="0.75"/>
<line x1="216.50" y1="373.00" x2="216.50" y2="406.90" stroke="#484848" stroke-width="0.75"/>
<line x1="220.90" y1="373.00" x2="220.90" y2="406.90" stroke="#484848" stroke-width="0.75"/>
<line x1="225.50" y1="373.00" x2="225.50" y2="406.90" stroke="#484848" stroke-width="0.75"/>
<line x1="229.80" y1="373.00" x2="229.80" y2="406.90" stroke="#484848" stroke-width="0.75"/>
<line x1="234.30" y1="373.00" x2="234.30" y2="406.90" stroke="#484848" stroke-width="0.75"/>
<line x1="238.90" y1="373.00" x2="238.90" y2="406.90" stroke="#484848" stroke-width="0.75"/>
<line x1="243.40" y1="373.00" x2="243.40" y2="406.90" stroke="#484848" stroke-width="0.75"/>
<line x1="248.40" y1="373.00" x2="248.40" y2="406.90" stroke="#484848" stroke-width="0.75"/>
<line x1="252.80" y1="373.00" x2="252.80" y2="406.90" stroke="#484848" stroke-width="0.75"/>
<line x1="257.40" y1="373.00" x2="257.40" y2="406.90" stroke="#484848" stroke-width="0.75"/>
<line x1="261.60" y1="373.00" x2="261.60" y2="406.90" stroke="#484848" stroke-width="0.75"/>
<line x1="265.80" y1="373.00" x2="265.80" y2="406.90" stroke="#484848" stroke-width="0.75"/>
<line x1="270.00" y1="373.00" x2="270.00" y2="406.90" stroke="#484848" stroke-width="0.75"/>
<line x1="273.70" y1="373.00" x2="273.70" y2="406.90" stroke="#484848" stroke-width="0.75"/>
<line x1="277.50" y1="373.00" x2="277.50" y2="406.90" stroke="#484848" stroke-width="0.75"/>
<line x1="281.40" y1="373.00" x2="281.40" y2="406.90" stroke="#484848" stroke-width="0.75"/>
<line x1="285.80" y1="373.00" x2="285.80" y2="406.90" stroke="#484848" stroke-width="0.75"/>
<line x1="290.50" y1="373.00" x2="290.50" y2="406.90" stroke="#484848" stroke-width="0.75"/>
<line x1="294.80" y1="373.00" x2="294.80" y2="406.90" stroke="#484848" stroke-width="0.75"/>
<line x1="299.60" y1="373.00" x2="299.60" y2="406.90" stroke="#484848" stroke-width="0.75"/>
<line x1="303.90" y1="373.00" x2="303.90" y2="406.90" stroke="#484848" stroke-width="0.75"/>
<line x1="308.00" y1="373.00" x2="308.00" y2="406.90" stroke="#484848" stroke-width="0.75"/>
<line x1="311.80" y1="373.00" x2="311.80" y2="406.90" stroke="#484848" stroke-width="0.75"/>
<line x1="316.30" y1="373.00" x2="316.30" y2="406.90" stroke="#484848" stroke-width="0.75"/>
<line x1="320.20" y1="373.00" x2="320.20" y2="406.90" stroke="#484848" stroke-width="0.75"/>
<line x1="324.20" y1="373.00" x2="324.20" y2="406.90" stroke="#484848" stroke-width="0.75"/>
<line x1="328.00" y1="373.00" x2="328.00" y2="406.90" stroke="#484848" stroke-width="0.75"/>
<line x1="331.90" y1="373.00" x2="331.90" y2="406.90" stroke="#484848" stroke-width="0.75"/>
<line x1="336.20" y1="373.00" x2="336.20" y2="406.90" stroke="#484848" stroke-width="0.75"/>
<line x1="340.40" y1="373.00" x2="340.40" y2="406.90" stroke="#484848" stroke-width="0.75"/>
<line x1="344.60" y1="373.00" x2="344.60" y2="406.90" stroke="#484848" stroke-width="0.75"/>
<line x1="348.80" y1="373.00" x2="348.80" y2="406.90" stroke="#484848" stroke-width="0.75"/>
<line x1="353.20" y1="373.00" x2="353.20" y2="406.90" stroke="#484848" stroke-width="0.75"/>
<line x1="357.70" y1="373.00" x2="357.70" y2="406.90" stroke="#484848" stroke-width="0.75"/>
<line x1="362.40" y1="373.00" x2="362.40" y2="406.90" stroke="#484848" stroke-width="0.75"/>
<line x1="366.80" y1="373.00" x2="366.80" y2="406.90" stroke="#484848" stroke-width="0.75"/>
<line x1="371.60" y1="373.00" x2="371.60" y2="406.90" stroke="#484848" stroke-width="0.75"/>
<line x1="376.20" y1="373.00" x2="376.20" y2="406.90" stroke="#484848" stroke-width="0.75"/>
<line x1="380.50" y1="373.00" x2="380.50" y2="406.90" stroke="#484848" stroke-width="0.75"/>
<line x1="384.70" y1="373.00" x2="384.70" y2="406.90" stroke="#484848" stroke-width="0.75"/>
<line x1="388.50" y1="373.00" x2="388.50" y2="406.90" stroke="#484848" stroke-width="0.75"/>
<line x1="393.20" y1="373.00" x2="393.20" y2="406.90" stroke="#484848" stroke-width="0.75"/>
<line x1="397.20" y1="373.00" x2="397.20" y2="406.90" stroke="#484848" stroke-width="0.75"/>
<line x1="400.80" y1="373.00" x2="400.80" y2="406.90" stroke="#484848" stroke-width="0.75"/>
<line x1="404.40" y1="373.00" x2="404.40" y2="406.90" stroke="#484848" stroke-width="0.75"/>
<line x1="408.20" y1="373.00" x2="408.20" y2="406.90" stroke="#484848" stroke-width="0.75"/>
<line x1="412.50" y1="373.00" x2="412.50" y2="406.90" stroke="#484848" stroke-width="0.75"/>
<line x1="416.70" y1="373.00" x2="416.70" y2="406.90" stroke="#484848" stroke-width="0.75"/>
<line x1="420.20" y1="373.00" x2="420.20" y2="406.90" stroke="#484848" stroke-width="0.75"/>
<line x1="424.40" y1="373.00" x2="424.40" y2="406.90" stroke="#484848" stroke-width="0.75"/>
<line x1="428.20" y1="373.00" x2="428.20" y2="406.90" stroke="#484848" stroke-width="0.75"/>
<line x1="432.50" y1="373.00" x2="432.50" y2="406.90" stroke="#484848" stroke-width="0.75"/>
<line x1="436.40" y1="373.00" x2="436.40" y2="406.90" stroke="#484848" stroke-width="0.75"/>
<line x1="440.60" y1="373.00" x2="440.60" y2="406.90" stroke="#484848" stroke-width="0.75"/>
<line x1="444.80" y1="373.00" x2="444.80" y2="406.90" stroke="#484848" stroke-width="0.75"/>
<line x1="449.30" y1="373.00" x2="449.30" y2="406.90" stroke="#484848" stroke-width="0.75"/>
<line x1="453.70" y1="373.00" x2="453.70" y2="406.90" stroke="#484848" stroke-width="0.75"/>
<line x1="458.30" y1="373.00" x2="458.30" y2="406.90" stroke="#484848" stroke-width="0.75"/>
<line x1="462.70" y1="373.00" x2="462.70" y2="406.90" stroke="#484848" stroke-width="0.75"/>
<line x1="467.30" y1="373.00" x2="467.30" y2="406.90" stroke="#484848" stroke-width="0.75"/>
<line x1="471.50" y1="373.00" x2="471.50" y2="406.90" stroke="#484848" stroke-width="0.75"/>
<line x1="476.50" y1="373.00" x2="476.50" y2="406.90" stroke="#484848" stroke-width="0.75"/>
<line x1="481.10" y1="373.00" x2="481.10" y2="406.90" stroke="#484848" stroke-width="0.75"/>
<line x1="484.90" y1="373.00" x2="484.90" y2="406.90" stroke="#484848" stroke-width="0.75"/>
<line x1="18.60" y1="367.35" x2="513.30" y2="367.35" stroke="#888" stroke-width="0.75"/>
<line x1="18.60" y1="373.00" x2="513.30" y2="373.00" stroke="#484848" stroke-width="0.75"/>
<line x1="18.60" y1="378.65" x2="513.30" y2="378.65" stroke="#484848" stroke-width="0.75"/>
<line x1="18.60" y1="384.30" x2="513.30" y2="384.30" stroke="#484848" stroke-width="0.75"/>
<line x1="18.60" y1="389.95" x2="513.30" y2="389.95" stroke="#484848" stroke-width="0.75"/>
<line x1="18.60" y1="395.60" x2="513.30" y2="395.60" stroke="#484848" stroke-width="0.75"/>
<line x1="18.60" y1="401.25" x2="513.30" y2="401.25" stroke="#484848" stroke-width="0.75"/>
<rect x="62.30" y="373.00" width="4.60" height="5.65" fill="#284885" stroke="#1a1a1a" stroke-width="0.7"/>
<rect x="94.50" y="373.00" width="4.60" height="5.65" fill="#284885" stroke="#1a1a1a" stroke-width="0.7"/>
<rect x="199.10" y="373.00" width="4.50" height="5.65" fill="#284885" stroke="#1a1a1a" stroke-width="0.7"/>
<rect x="203.60" y="373.00" width="4.30" height="5.65" fill="#284885" stroke="#1a1a1a" stroke-width="0.7"/>
<rect x="207.90" y="373.00" width="4.30" height="5.65" fill="#284885" stroke="#1a1a1a" stroke-width="0.7"/>
<rect x="220.90" y="373.00" width="4.60" height="5.65" fill="#284885" stroke="#1a1a1a" stroke-width="0.7"/>
<rect x="234.30" y="373.00" width="4.60" height="5.65" fill="#284885" stroke="#1a1a1a" stroke-width="0.7"/>
<rect x="238.90" y="373.00" width="4.50" height="5.65" fill="#284885" stroke="#1a1a1a" stroke-width="0.7"/>
<rect x="243.40" y="373.00" width="5.00" height="5.65" fill="#284885" stroke="#1a1a1a" stroke-width="0.7"/>
<rect x="265.80" y="373.00" width="4.20" height="5.65" fill="#284885" stroke="#1a1a1a" stroke-width="0.7"/>
<rect x="277.50" y="373.00" width="3.90" height="5.65" fill="#284885" stroke="#1a1a1a" stroke-width="0.7"/>
<rect x="281.40" y="373.00" width="4.40" height="5.65" fill="#284885" stroke="#1a1a1a" stroke-width="0.7"/>
<rect x="285.80" y="373.00" width="4.70" height="5.65" fill="#284885" stroke="#1a1a1a" stroke-width="0.7"/>
<rect x="294.80" y="373.00" width="4.80" height="5.65" fill="#284885" stroke="#1a1a1a" stroke-width="0.7"/>
<rect x="308.00" y="373.00" width="3.80" height="5.65" fill="#284885" stroke="#1a1a1a" stroke-width="0.7"/>
<rect x="316.30" y="373.00" width="3.90" height="5.65" fill="#284885" stroke="#1a1a1a" stroke-width="0.7"/>
<rect x="336.20" y="373.00" width="4.20" height="5.65" fill="#284885" stroke="#1a1a1a" stroke-width="0.7"/>
<rect x="344.60" y="373.00" width="4.20" height="5.65" fill="#284885" stroke="#1a1a1a" stroke-width="0.7"/>
<rect x="348.80" y="373.00" width="4.40" height="5.65" fill="#284885" stroke="#1a1a1a" stroke-width="0.7"/>
<rect x="353.20" y="373.00" width="4.50" height="5.65" fill="#284885" stroke="#1a1a1a" stroke-width="0.7"/>
<rect x="357.70" y="373.00" width="4.70" height="5.65" fill="#284885" stroke="#1a1a1a" stroke-width="0.7"/>
<rect x="362.40" y="373.00" width="4.40" height="5.65" fill="#284885" stroke="#1a1a1a" stroke-width="0.7"/>
<rect x="366.80" y="373.00" width="4.80" height="5.65" fill="#284885" stroke="#1a1a1a" stroke-width="0.7"/>
<rect x="376.20" y="373.00" width="4.30" height="5.65" fill="#284885" stroke="#1a1a1a" stroke-width="0.7"/>
<rect x="397.20" y="373.00" width="3.60" height="5.65" fill="#284885" stroke="#1a1a1a" stroke-width="0.7"/>
<rect x="408.20" y="373.00" width="4.30" height="5.65" fill="#284885" stroke="#1a1a1a" stroke-width="0.7"/>
<rect x="424.40" y="373.00" width="3.80" height="5.65" fill="#284885" stroke="#1a1a1a" stroke-width="0.7"/>
<rect x="440.60" y="373.00" width="4.20" height="5.65" fill="#284885" stroke="#1a1a1a" stroke-width="0.7"/>
<rect x="453.70" y="373.00" width="4.60" height="5.65" fill="#284885" stroke="#1a1a1a" stroke-width="0.7"/>
<rect x="484.90" y="373.00" width="4.10" height="5.65" fill="#284885" stroke="#1a1a1a" stroke-width="0.7"/>
<rect x="186.30" y="378.65" width="4.10" height="5.65" fill="#284885" stroke="#1a1a1a" stroke-width="0.7"/>
<rect x="199.10" y="378.65" width="4.50" height="5.65" fill="#284885" stroke="#1a1a1a" stroke-width="0.7"/>
<rect x="203.60" y="378.65" width="4.30" height="5.65" fill="#284885" stroke="#1a1a1a" stroke-width="0.7"/>
<rect x="207.90" y="378.65" width="4.30" height="5.65" fill="#284885" stroke="#1a1a1a" stroke-width="0.7"/>
<rect x="212.20" y="378.65" width="4.30" height="5.65" fill="#284885" stroke="#1a1a1a" stroke-width="0.7"/>
<rect x="229.80" y="378.65" width="4.50" height="5.65" fill="#284885" stroke="#1a1a1a" stroke-width="0.7"/>
<rect x="252.80" y="378.65" width="4.60" height="5.65" fill="#284885" stroke="#1a1a1a" stroke-width="0.7"/>
<rect x="270.00" y="378.65" width="3.70" height="5.65" fill="#284885" stroke="#1a1a1a" stroke-width="0.7"/>
<rect x="285.80" y="378.65" width="4.70" height="5.65" fill="#284885" stroke="#1a1a1a" stroke-width="0.7"/>
<rect x="331.90" y="378.65" width="4.30" height="5.65" fill="#284885" stroke="#1a1a1a" stroke-width="0.7"/>
<rect x="357.70" y="378.65" width="4.70" height="5.65" fill="#284885" stroke="#1a1a1a" stroke-width="0.7"/>
<rect x="362.40" y="378.65" width="4.40" height="5.65" fill="#284885" stroke="#1a1a1a" stroke-width="0.7"/>
<rect x="216.50" y="384.30" width="4.40" height="5.65" fill="#284885" stroke="#1a1a1a" stroke-width="0.7"/>
<rect x="220.90" y="384.30" width="4.60" height="5.65" fill="#284885" stroke="#1a1a1a" stroke-width="0.7"/>
<rect x="225.50" y="384.30" width="4.30" height="5.65" fill="#284885" stroke="#1a1a1a" stroke-width="0.7"/>
<rect x="238.90" y="384.30" width="4.50" height="5.65" fill="#284885" stroke="#1a1a1a" stroke-width="0.7"/>
<rect x="281.40" y="384.30" width="4.40" height="5.65" fill="#284885" stroke="#1a1a1a" stroke-width="0.7"/>
<rect x="303.90" y="384.30" width="4.10" height="5.65" fill="#284885" stroke="#1a1a1a" stroke-width="0.7"/>
<rect x="371.60" y="384.30" width="4.60" height="5.65" fill="#284885" stroke="#1a1a1a" stroke-width="0.7"/>
<rect x="393.20" y="384.30" width="4.00" height="5.65" fill="#284885" stroke="#1a1a1a" stroke-width="0.7"/>
<rect x="397.20" y="384.30" width="3.60" height="5.65" fill="#284885" stroke="#1a1a1a" stroke-width="0.7"/>
<rect x="458.30" y="384.30" width="4.40" height="5.65" fill="#284885" stroke="#1a1a1a" stroke-width="0.7"/>
<rect x="467.30" y="384.30" width="4.20" height="5.65" fill="#284885" stroke="#1a1a1a" stroke-width="0.7"/>
<rect x="234.30" y="389.95" width="4.60" height="5.65" fill="#284885" stroke="#1a1a1a" stroke-width="0.7"/>
<rect x="243.40" y="389.95" width="5.00" height="5.65" fill="#284885" stroke="#1a1a1a" stroke-width="0.7"/>
<rect x="380.50" y="389.95" width="4.20" height="5.65" fill="#284885" stroke="#1a1a1a" stroke-width="0.7"/>
<rect x="440.60" y="389.95" width="4.20" height="5.65" fill="#284885" stroke="#1a1a1a" stroke-width="0.7"/>
<rect x="453.70" y="389.95" width="4.60" height="5.65" fill="#284885" stroke="#1a1a1a" stroke-width="0.7"/>
<rect x="207.90" y="401.25" width="4.30" height="5.65" fill="#284885" stroke="#1a1a1a" stroke-width="0.7"/>
<rect x="212.20" y="401.25" width="4.30" height="5.65" fill="#284885" stroke="#1a1a1a" stroke-width="0.7"/>
<rect x="294.80" y="401.25" width="4.80" height="5.65" fill="#284885" stroke="#1a1a1a" stroke-width="0.7"/>
<rect x="388.50" y="401.25" width="4.70" height="5.65" fill="#284885" stroke="#1a1a1a" stroke-width="0.7"/>
<rect x="412.50" y="401.25" width="4.20" height="5.65" fill="#284885" stroke="#1a1a1a" stroke-width="0.7"/>
<rect x="420.20" y="401.25" width="4.20" height="5.65" fill="#284885" stroke="#1a1a1a" stroke-width="0.7"/>
<rect x="428.20" y="401.25" width="4.30" height="5.65" fill="#284885" stroke="#1a1a1a" stroke-width="0.7"/>
<text x="64.35" y="371.80" font-size="4.5" text-anchor="middle" fill="#333">JAK2</text>
<line x1="85.50" y1="367.35" x2="85.50" y2="373.00" stroke="#666" stroke-width="0.75"/>
<text x="105.70" y="371.80" font-size="4.5" text-anchor="middle" fill="#333">CALR</text>
<line x1="125.90" y1="367.35" x2="125.90" y2="373.00" stroke="#666" stroke-width="0.75"/>
<text x="129.70" y="371.80" font-size="4.5" text-anchor="middle" fill="#333">TN</text>
<text x="88.35" y="366.17" font-size="4.7" text-anchor="middle" fill="#333">ET</text>
<text x="161.95" y="371.80" font-size="4.5" text-anchor="middle" fill="#333">JAK2</text>
<text x="161.95" y="366.17" font-size="4.7" text-anchor="middle" fill="#333">PV</text>
<text x="253.35" y="371.80" font-size="4.5" text-anchor="middle" fill="#333">JAK2</text>
<line x1="316.30" y1="367.35" x2="316.30" y2="373.00" stroke="#666" stroke-width="0.75"/>
<text x="334.75" y="371.80" font-size="4.5" text-anchor="middle" fill="#333">CALR</text>
<line x1="353.20" y1="367.35" x2="353.20" y2="373.00" stroke="#666" stroke-width="0.75"/>
<text x="357.80" y="371.80" font-size="4.5" text-anchor="middle" fill="#333">MPL</text>
<line x1="362.40" y1="367.35" x2="362.40" y2="373.00" stroke="#666" stroke-width="0.75"/>
<text x="364.60" y="371.80" font-size="4.5" text-anchor="middle" fill="#333">T</text>
<text x="278.60" y="366.17" font-size="4.7" text-anchor="middle" fill="#333">PMF</text>
<text x="408.05" y="371.80" font-size="4.5" text-anchor="middle" fill="#333">JAK2</text>
<line x1="449.30" y1="367.35" x2="449.30" y2="373.00" stroke="#666" stroke-width="0.75"/>
<text x="469.15" y="371.80" font-size="4.5" text-anchor="middle" fill="#333">CALR</text>
<text x="427.90" y="366.17" font-size="4.7" text-anchor="middle" fill="#333">sMF</text>
<line x1="133.50" y1="361.70" x2="133.50" y2="406.90" stroke="#222" stroke-width="1.3"/>
<line x1="190.40" y1="361.70" x2="190.40" y2="406.90" stroke="#222" stroke-width="1.3"/>
<line x1="366.80" y1="361.70" x2="366.80" y2="406.90" stroke="#222" stroke-width="1.3"/>
<line x1="43.30" y1="361.70" x2="43.30" y2="406.90" stroke="#222" stroke-width="1.5"/>
<line x1="489.00" y1="361.70" x2="489.00" y2="406.90" stroke="#222" stroke-width="1.5"/>
<rect x="18.60" y="361.70" width="494.70" height="45.20" fill="none" stroke="#333" stroke-width="1.4" rx="0.8"/>
<text x="20.80" y="366.12" font-size="4.4" text-anchor="start" fill="#333">Phenotype</text>
<text x="491.20" y="366.12" font-size="4.4" text-anchor="start" fill="#333">Phenotype</text>
<text x="20.80" y="371.77" font-size="4.4" text-anchor="start" fill="#333">Driver</text>
<text x="491.20" y="371.77" font-size="4.4" text-anchor="start" fill="#333">Driver</text>
<text x="20.80" y="377.43" font-size="4.4" text-anchor="start" fill="#333">ASXL1</text>
<text x="491.20" y="377.43" font-size="4.4" text-anchor="start" fill="#333">ASXL1</text>
<text x="20.80" y="383.07" font-size="4.4" text-anchor="start" fill="#333">SRSF2</text>
<text x="491.20" y="383.07" font-size="4.4" text-anchor="start" fill="#333">SRSF2</text>
<text x="20.80" y="388.73" font-size="4.4" text-anchor="start" fill="#333">U2AF1</text>
<text x="491.20" y="388.73" font-size="4.4" text-anchor="start" fill="#333">U2AF1</text>
<text x="20.80" y="394.38" font-size="4.4" text-anchor="start" fill="#333">EZH2</text>
<text x="491.20" y="394.38" font-size="4.4" text-anchor="start" fill="#333">EZH2</text>
<text x="20.80" y="400.03" font-size="4.4" text-anchor="start" fill="#333">IDH1</text>
<text x="491.20" y="400.03" font-size="4.4" text-anchor="start" fill="#333">IDH1</text>
<text x="20.80" y="405.68" font-size="4.4" text-anchor="start" fill="#333">IDH2</text>
<text x="491.20" y="405.68" font-size="4.4" text-anchor="start" fill="#333">IDH2</text>
<rect x="0.5" y="0.5" width="519" height="413" fill="none" stroke="#000" stroke-width="1.2"/>
</svg>
</body></html>
